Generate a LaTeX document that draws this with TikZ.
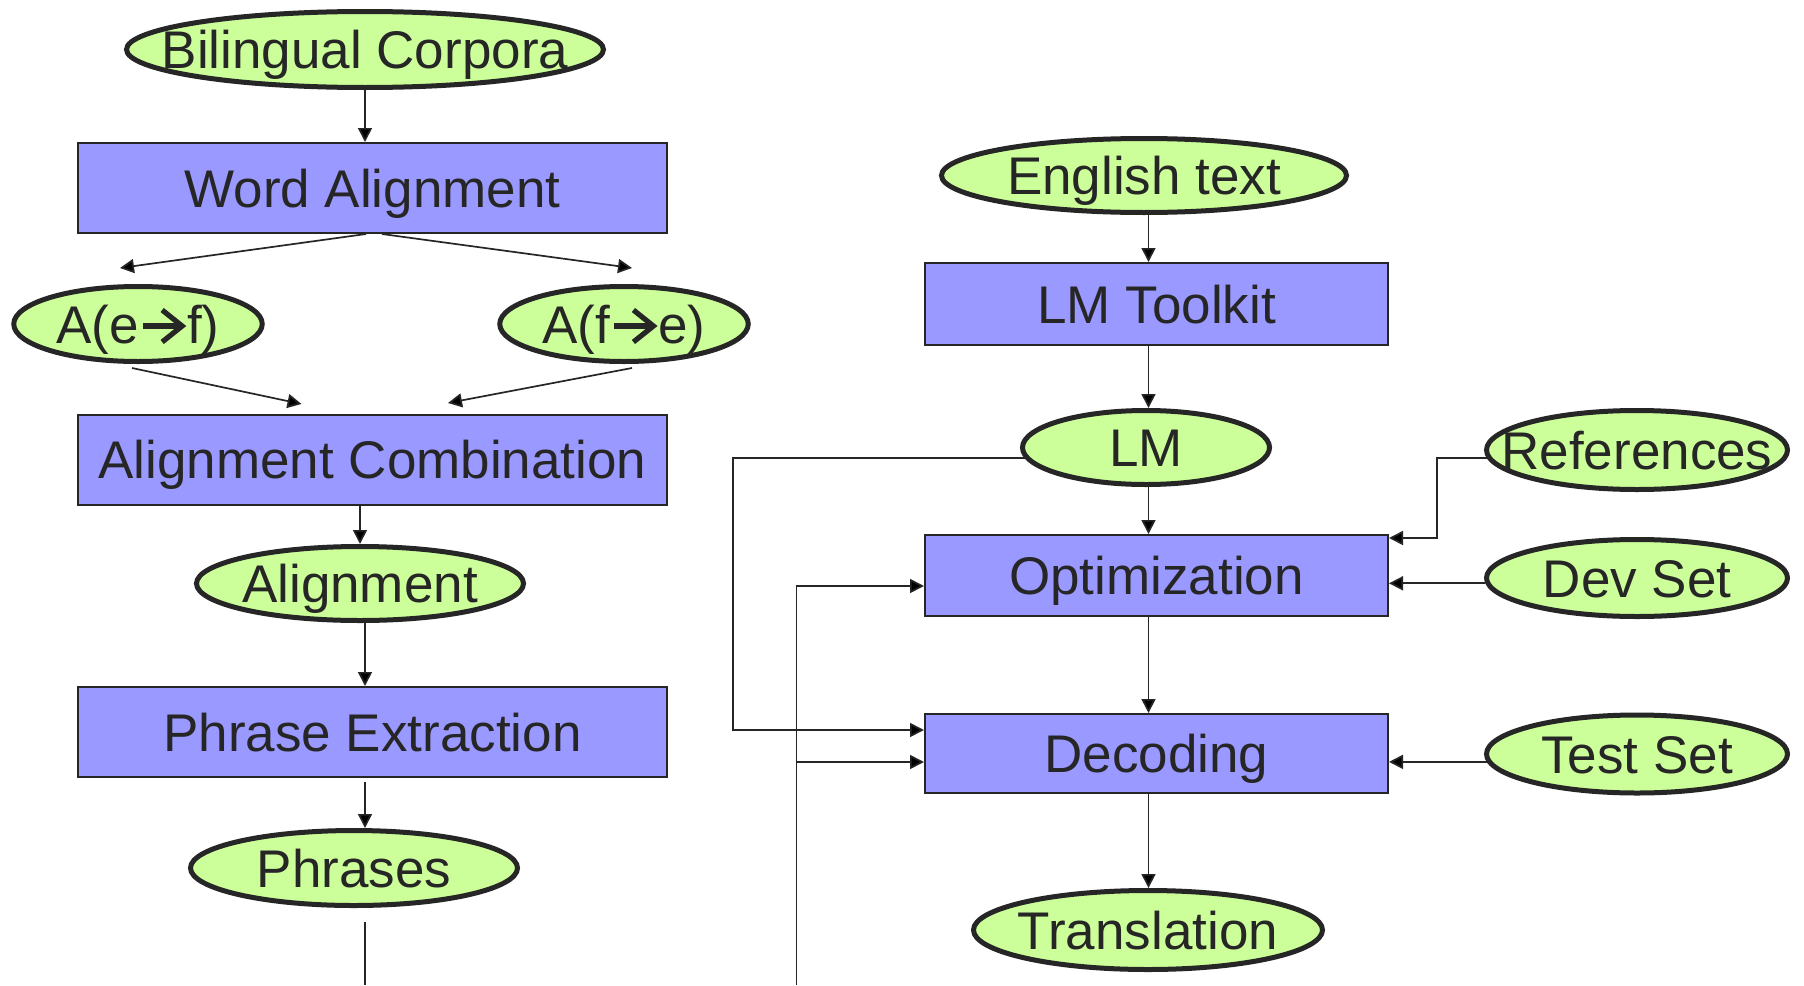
\documentclass[tikz,border=0pt]{standalone}
\usepackage{fontspec}
\setmainfont{Liberation Sans}
\usetikzlibrary{arrows.meta,shapes.geometric,calc}
\definecolor{ellfill}{HTML}{CCFF99}
\definecolor{boxfill}{HTML}{9999FF}
\definecolor{ink}{HTML}{262626}
\newcommand{\lbl}[1]{\makebox[0pt][c]{#1}}
\newcommand{\boldarrow}{\hspace{0.8pt}\tikz[baseline=0pt,x=1pt,y=1pt]{%
  \draw[ink,line width=2.6pt,line cap=butt] (0,8.5) -- (18.5,8.5);
  \draw[ink,line width=2.6pt,line join=miter,line cap=butt] (9.5,16.5) -- (19.5,8.5) -- (9.5,0.5);}\hspace{1.2pt}}
\begin{document}
\begin{tikzpicture}[x=0.5pt,y=-0.5pt,
  every node/.style={font=\fontsize{26.5}{30}\selectfont, text=ink, inner sep=0pt, text height=19pt, text depth=0pt},
  ellnode/.style={ellipse, draw=ink, fill=ellfill, line width=2.5pt},
  boxnode/.style={rectangle, draw=ink, fill=boxfill, line width=1pt},
  conn/.style={draw=ink, line width=0.85pt},
  arr/.style={conn, -{Triangle[length=7pt,width=7pt]}}]
\useasboundingbox[fill=white] (0,0) rectangle (1804,985);

% left column
\node[ellnode, minimum width=238.5pt, minimum height=38pt] (bc) at (365,49.5) {\lbl{Bilingual Corpora}};
\node[boxnode, minimum width=294.5pt, minimum height=45pt] (wa) at (372.5,188) {\lbl{Word Alignment}};
\node[ellnode, minimum width=124.25pt, minimum height=37.5pt] (aef) at (138,324) {\lbl{A(e\boldarrow f)}};
\node[ellnode, minimum width=124.25pt, minimum height=37.5pt] (afe) at (624,324) {\lbl{A(f\boldarrow e)}};
\node[boxnode, minimum width=294.5pt, minimum height=45pt] (ac) at (372.5,459.5) {\lbl{Alignment Combination}};
\node[ellnode, minimum width=163.5pt, minimum height=37pt] (al) at (360,583.5) {\lbl{Alignment}};
\node[boxnode, minimum width=294.5pt, minimum height=45pt] (pe) at (372.5,732) {\lbl{Phrase Extraction}};
\node[ellnode, minimum width=163.5pt, minimum height=37.5pt] (ph) at (354,868) {\lbl{Phrases}};

% right column
\node[ellnode, minimum width=202.5pt, minimum height=37pt] (et) at (1144,175.5) {\lbl{English text}};
\node[boxnode, minimum width=231.5pt, minimum height=41pt] (lt) at (1156.5,304) {\lbl{LM Toolkit}};
\node[ellnode, minimum width=123.5pt, minimum height=37pt] (lm) at (1146,447.5) {\lbl{LM}};
\node[boxnode, minimum width=231.5pt, minimum height=40.5pt] (opt) at (1156.5,575.5) {\lbl{Optimization}};
\node[boxnode, minimum width=231.5pt, minimum height=39.5pt] (dec) at (1156.5,753.5) {\lbl{Decoding}};
\node[ellnode, minimum width=174.5pt, minimum height=39.5pt] (tr) at (1148,930) {\lbl{Translation}};
\node[ellnode, minimum width=150.5pt, minimum height=39.5pt] (ref) at (1637,450) {\lbl{References}};
\node[ellnode, minimum width=150.5pt, minimum height=38.5pt] (dev) at (1637,578) {\lbl{Dev Set}};
\node[ellnode, minimum width=150.5pt, minimum height=39pt] (tst) at (1637,754) {\lbl{Test Set}};

\coordinate (colL) at (365,0);
\coordinate (colR) at (1148.5,0);
\coordinate (phout) at (365,985);
\coordinate (fbin) at (796.5,985);

% left connectors
\draw[arr] (bc.south) -- (bc.south |- wa.north);
\draw[arr] ([xshift=-3.25pt]wa.south) -- ([xshift=-9pt,yshift=8pt]aef.north);
\draw[arr] ([xshift=4.75pt]wa.south) -- ([xshift=4pt,yshift=8pt]afe.north);
\draw[arr] ([xshift=-3pt,yshift=-2pt]aef.south) -- ([xshift=-35.5pt,yshift=4.75pt]ac.north);
\draw[arr] ([xshift=4pt,yshift=-2pt]afe.south) -- ([xshift=37.75pt,yshift=5.25pt]ac.north);
\draw[arr] (al.north |- ac.south) -- (al.north);
\draw[arr] (colL |- al.south) -- (colL |- pe.north);
\draw[arr, shorten <=1.75pt] (colL |- pe.south) -- (colL |- ph.north);
\draw[conn, shorten <=6.85pt] (colL |- ph.south) -- (phout);

% right connectors
\draw[arr] (colR |- et.south) -- (colR |- lt.north);
\draw[arr] (colR |- lt.south) -- (colR |- lm.north);
\draw[arr] (colR |- lm.south) -- (colR |- opt.north);
\draw[arr] (colR |- opt.south) -- (colR |- dec.north);
\draw[arr] (colR |- dec.south) -- (colR |- tr.north);
\draw[arr] (ref.183) -| ([xshift=24pt,yshift=18.75pt]opt.east) -- ([yshift=18.75pt]opt.east);
\draw[arr] (dev.182) -- (dev.182 -| opt.east);
\draw[arr] (tst.183) -- (tst.183 -| dec.east);
\draw[arr] (lm.185) -| ([xshift=-95.5pt,yshift=11.75pt]dec.west) -- ([yshift=11.75pt]dec.west);
\draw[arr] (fbin) |- ([yshift=-5.25pt]opt.west);
\draw[arr] ([xshift=-63.75pt,yshift=-4.25pt]dec.west) -- ([yshift=-4.25pt]dec.west);
\end{tikzpicture}
\end{document}
